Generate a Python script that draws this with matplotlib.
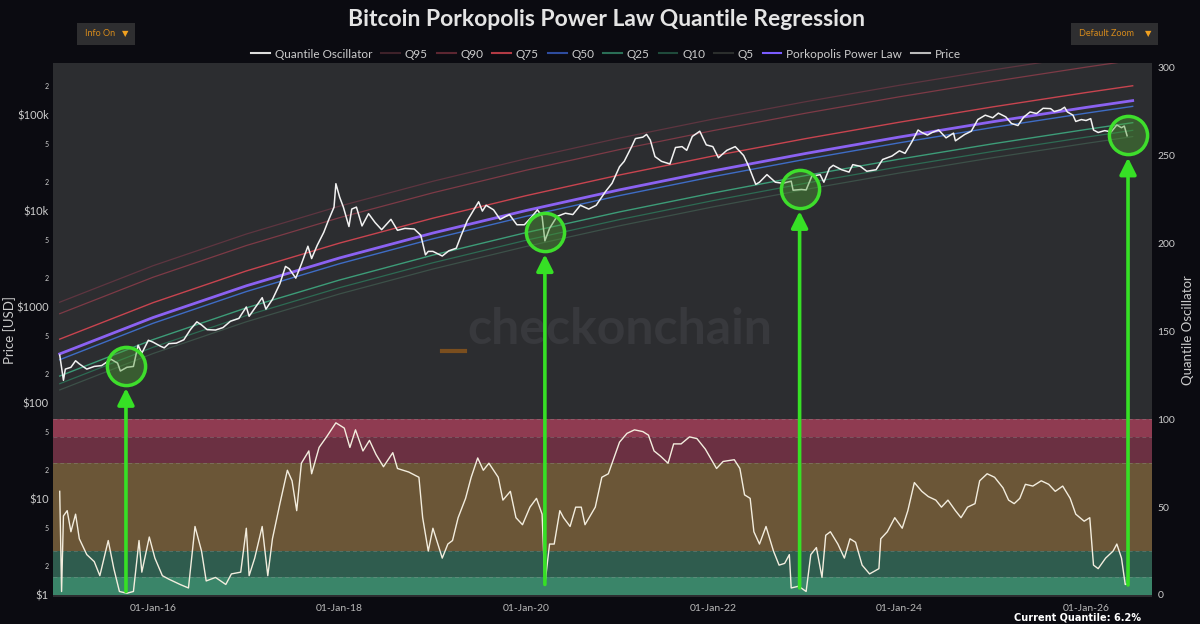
import matplotlib
matplotlib.use('Agg')
import matplotlib.pyplot as plt
import matplotlib.dates as mdates
from matplotlib.lines import Line2D
from matplotlib.patches import Rectangle
from matplotlib.ticker import FixedLocator, FixedFormatter
import numpy as np
import pandas as pd

plt.rcParams['font.family'] = ['Lato', 'DejaVu Sans']

BG = '#0b0b11'
PLOT_BG = '#2c2d30'
TXT = '#cccccc'

# ---- data ----
# quantile model curves, price in USD at the start of each year
curve_years = [2015, 2016, 2017, 2018, 2019, 2020, 2021, 2022, 2023, 2024, 2025, 2026, 2026.5]
q95 = [1122, 2692, 5763, 11260, 20460, 35170, 57730, 90890, 138500, 205000, 296000, 417700, 491700]
q90 = [851, 2042, 4372, 8540, 15520, 26680, 43800, 68950, 105100, 155500, 224500, 316900, 373000]
q75 = [462, 1109, 2375, 4640, 8432, 14490, 23790, 37460, 57080, 84480, 122000, 172100, 202600]
ppl = [324, 776, 1662, 3247, 5902, 10140, 16650, 26210, 39950, 59140, 85410, 120400, 141800]
q50 = [282, 676, 1448, 2828, 5140, 8833, 14500, 22830, 34800, 51510, 74390, 104900, 123500]
q25 = [190.5, 457, 979, 1912, 3475, 5971, 9803, 15430, 23520, 34820, 50290, 70910, 83510]
q10 = [158.5, 380, 814, 1590, 2891, 4967, 8155, 12840, 19570, 28970, 41830, 58990, 69470]
q5 = [136.5, 327, 701, 1369, 2489, 4276, 7021, 11050, 16850, 24940, 36020, 50790, 59810]

price_years = [
    2015.00, 2015.04, 2015.06, 2015.12, 2015.17, 2015.21, 2015.29, 2015.37, 2015.45, 2015.50,
    2015.55, 2015.62, 2015.65, 2015.72, 2015.79, 2015.84, 2015.88, 2015.95, 2016.00, 2016.08,
    2016.12, 2016.17, 2016.25, 2016.33, 2016.40, 2016.47, 2016.52, 2016.58, 2016.67, 2016.75,
    2016.83, 2016.92, 2017.00, 2017.03, 2017.10, 2017.17, 2017.21, 2017.28, 2017.36, 2017.42,
    2017.46, 2017.53, 2017.59, 2017.66, 2017.70, 2017.76, 2017.83, 2017.88, 2017.94, 2017.96,
    2018.00, 2018.04, 2018.10, 2018.13, 2018.18, 2018.24, 2018.31, 2018.38, 2018.45, 2018.55,
    2018.62, 2018.70, 2018.80, 2018.87, 2018.92, 2018.95, 2019.00, 2019.10, 2019.17, 2019.25,
    2019.30, 2019.37, 2019.49, 2019.53, 2019.57, 2019.65, 2019.72, 2019.82, 2019.90, 2019.98,
    2020.05, 2020.12, 2020.17, 2020.20, 2020.25, 2020.33, 2020.42, 2020.50, 2020.58, 2020.67,
    2020.75, 2020.85, 2020.92, 2021.00, 2021.05, 2021.13, 2021.17, 2021.25, 2021.29, 2021.33,
    2021.38, 2021.45, 2021.54, 2021.60, 2021.67, 2021.72, 2021.78, 2021.86, 2021.93, 2022.00,
    2022.06, 2022.15, 2022.24, 2022.33, 2022.38, 2022.46, 2022.50, 2022.58, 2022.67, 2022.75,
    2022.84, 2022.86, 2022.95, 2023.00, 2023.06, 2023.15, 2023.19, 2023.25, 2023.29, 2023.38,
    2023.46, 2023.50, 2023.58, 2023.65, 2023.75, 2023.82, 2023.92, 2024.00, 2024.06, 2024.13,
    2024.20, 2024.24, 2024.30, 2024.35, 2024.42, 2024.50, 2024.58, 2024.60, 2024.70, 2024.77,
    2024.84, 2024.92, 2025.00, 2025.06, 2025.14, 2025.20, 2025.27, 2025.33, 2025.40, 2025.47,
    2025.54, 2025.62, 2025.66, 2025.73, 2025.77, 2025.80, 2025.86, 2025.89, 2025.95, 2026.00,
    2026.05, 2026.08, 2026.13, 2026.20, 2026.27, 2026.33, 2026.38, 2026.41, 2026.44]
price_usd = [
    315, 172, 225, 235, 275, 255, 225, 240, 245, 265,
    285, 260, 215, 235, 240, 400, 330, 450, 430, 390,
    375, 415, 420, 455, 580, 700, 650, 580, 575, 610,
    710, 760, 1000, 800, 1000, 1250, 950, 1200, 1750, 2650,
    2500, 2000, 2800, 4300, 3200, 4400, 6000, 8000, 11000, 19300,
    14000, 11000, 6900, 10500, 11000, 7000, 9400, 7600, 6400, 8200,
    6300, 6600, 6500, 5600, 3500, 3800, 3800, 3400, 3850, 4100,
    5500, 8000, 12500, 10000, 11500, 10300, 8200, 9200, 7200, 7200,
    8500, 10300, 8800, 4900, 6600, 8800, 9500, 9200, 11500, 10500,
    11500, 16000, 19500, 29000, 33000, 47000, 57000, 59000, 63000, 55000,
    37000, 33000, 31000, 46000, 47000, 43000, 60000, 68000, 49000, 47000,
    36000, 43000, 47000, 38000, 30000, 19000, 20000, 24000, 20000, 19500,
    20500, 16500, 16800, 16600, 23000, 24000, 20000, 28000, 30000, 27000,
    25500, 30500, 29300, 26000, 27000, 34500, 37500, 42500, 40000, 52000,
    70000, 66000, 62000, 66000, 70000, 58000, 65000, 54000, 63000, 68000,
    90000, 100000, 94000, 105000, 96000, 82000, 78000, 95000, 108000, 104000,
    118000, 117000, 109000, 114000, 121000, 108000, 100000, 86000, 90000, 88000,
    92000, 70000, 66000, 69000, 67000, 79000, 74000, 77000, 61000]

osc_years = [
    2015.00, 2015.02, 2015.04, 2015.08, 2015.12, 2015.17, 2015.21, 2015.29, 2015.37, 2015.43,
    2015.52, 2015.58, 2015.64, 2015.72, 2015.79, 2015.85, 2015.88, 2015.96, 2016.02, 2016.10,
    2016.17, 2016.29, 2016.38, 2016.45, 2016.52, 2016.57, 2016.67, 2016.78, 2016.84, 2016.94,
    2017.00, 2017.03, 2017.09, 2017.17, 2017.23, 2017.28, 2017.36, 2017.44, 2017.49, 2017.54,
    2017.59, 2017.67, 2017.70, 2017.78, 2017.86, 2017.96, 2018.05, 2018.11, 2018.17, 2018.25,
    2018.32, 2018.39, 2018.47, 2018.57, 2018.62, 2018.74, 2018.85, 2018.89, 2018.95, 2019.00,
    2019.10, 2019.16, 2019.21, 2019.27, 2019.35, 2019.41, 2019.48, 2019.54, 2019.60, 2019.70,
    2019.75, 2019.83, 2019.89, 2019.96, 2020.04, 2020.11, 2020.17, 2020.20, 2020.25, 2020.30,
    2020.36, 2020.40, 2020.47, 2020.53, 2020.59, 2020.63, 2020.74, 2020.81, 2020.88, 2020.92,
    2021.00, 2021.08, 2021.16, 2021.25, 2021.31, 2021.37, 2021.44, 2021.52, 2021.58, 2021.66,
    2021.75, 2021.83, 2021.92, 2022.04, 2022.11, 2022.23, 2022.29, 2022.34, 2022.40, 2022.44,
    2022.50, 2022.57, 2022.65, 2022.71, 2022.77, 2022.82, 2022.84, 2022.92, 2023.00, 2023.05,
    2023.11, 2023.17, 2023.21, 2023.26, 2023.34, 2023.41, 2023.47, 2023.53, 2023.60, 2023.68,
    2023.78, 2023.80, 2023.87, 2023.95, 2024.03, 2024.09, 2024.16, 2024.24, 2024.31, 2024.39,
    2024.45, 2024.52, 2024.60, 2024.66, 2024.73, 2024.81, 2024.86, 2024.94, 2025.02, 2025.11,
    2025.17, 2025.23, 2025.29, 2025.35, 2025.43, 2025.52, 2025.60, 2025.67, 2025.75, 2025.83,
    2025.89, 2025.98, 2026.04, 2026.08, 2026.13, 2026.21, 2026.29, 2026.33, 2026.38, 2026.42,
    2026.44]
osc_vals = [
    59, 2, 45, 48, 36, 46, 32, 23, 19, 11,
    31, 15, 2, 1, 2, 31, 13, 33, 21, 11,
    9, 6, 4, 39, 25, 8, 10, 6, 12, 13,
    38, 11, 21, 39, 11, 32, 52, 71, 65, 48,
    75, 82, 69, 84, 90, 98, 95, 84, 94, 82,
    88, 80, 73, 81, 72, 70, 67, 44, 25, 38,
    21, 29, 31, 44, 55, 67, 78, 71, 75, 67,
    54, 59, 44, 40, 50, 55, 46, 6, 29, 29,
    48, 44, 39, 50, 50, 40, 50, 67, 69, 75,
    87, 92, 94, 93, 91, 82, 79, 75, 86, 86,
    90, 89, 83, 72, 76, 77, 72, 57, 55, 36,
    29, 39, 25, 17, 18, 23, 4, 5, 2, 23,
    27, 10, 34, 36, 29, 21, 32, 30, 17, 12,
    15, 32, 36, 44, 38, 48, 64, 59, 56, 54,
    50, 54, 48, 44, 50, 52, 65, 69, 67, 61,
    54, 52, 55, 63, 62, 65, 63, 59, 62, 55,
    46, 42, 44, 17, 15, 21, 25, 29, 21, 6,
    6.2]

# highlighted bottoms: date, price at circle, oscillator at arrow foot
bottom_years = [2015.71, 2020.20, 2022.93, 2026.45]
bottom_price = [243, 6030, 17000, 61400]
bottom_osc = [2, 6, 4, 5.7]

band_edges = [0, 10, 25, 75, 90, 100]
band_colors = ['#3a8569', '#2f5c4e', '#6b5637', '#6b3042', '#8f3b51']

x_range = [2014.928, 2026.707]


def to_date(years):
    years = np.atleast_1d(np.asarray(years, dtype=float))
    return pd.Timestamp('2015-01-01') + pd.to_timedelta((years - 2015) * 365.25, unit='D')


curve_dates = to_date(curve_years)
price_dates = to_date(price_years)
osc_dates = to_date(osc_years)
bottom_dates = to_date(bottom_years)
x_lims = to_date(x_range)

fig = plt.figure(figsize=(12, 6.24), dpi=100, facecolor=BG)
ax = fig.add_axes([53 / 1200, 27 / 624, 1099 / 1200, 534 / 624])
ax.set_facecolor(PLOT_BG)
ax.set_yscale('log')
ax2 = ax.twinx()

# quantile lines
lines = [
    (q95, '#5e3540', 0.9, 'Q95', '#3e2129'),
    (q90, '#7d3a46', 0.9, 'Q90', '#5c2631'),
    (q75, '#c8444f', 1.0, 'Q75', '#b23a44'),
    (q50, '#3e6cc4', 1.0, 'Q50', '#2e4c9e'),
    (q25, '#3d9c78', 1.0, 'Q25', '#2a6e56'),
    (q10, '#2d6b53', 0.9, 'Q10', '#1f4a3b'),
    (q5, '#3c5048', 0.9, 'Q5', '#2b2e2d'),
]
for vals, col, lw, lab, lcol in lines:
    ax.plot(curve_dates, vals, color=col, lw=lw, zorder=2)
ax.plot(curve_dates, ppl, color='#8b62f2', lw=2.0, zorder=3)
ax.plot(price_dates, price_usd, color='#f2f2f2', lw=1.1, zorder=4)

# watermark
ax.text(0.516, 0.5, 'checkonchain', transform=ax.transAxes, fontsize=36,
        fontweight='bold', color='#38393d', ha='center', va='center', zorder=1)
ax.plot([0.354, 0.375], [0.46, 0.46], transform=ax.transAxes, color='#7a4e1e',
        lw=3, zorder=1)

# oscillator bands
for i, col in enumerate(band_colors):
    ax2.axhspan(band_edges[i], band_edges[i + 1], color=col, lw=0, zorder=1)
for e in band_edges[1:]:
    ax2.axhline(e, color='#9a9a9a', lw=0.7, ls=(0, (4, 3)), alpha=0.35, zorder=1.5)
ax2.plot(osc_dates, osc_vals, color='#f3edde', lw=1.0, zorder=3)

# circles and arrows
for d, p, o in zip(bottom_dates, bottom_price, bottom_osc):
    ax.plot([d], [p], 'o', ms=27.5, mfc=(0.3, 0.62, 0.2, 0.42), mec='#3ede2c',
            mew=2.5, zorder=6)
    dn = mdates.date2num(d)
    ax2.annotate('', xy=(dn, p), xycoords=ax.transData, xytext=(dn, o),
                 textcoords=ax2.transData,
                 arrowprops=dict(arrowstyle='-|>,head_length=1.0,head_width=0.5',
                                 color='#36e025', lw=2.6, shrinkA=0, shrinkB=16),
                 zorder=7)

# axes limits and ticks
ax.set_xlim(x_lims[0], x_lims[1])
ax.set_ylim(10 ** -0.024, 10 ** 5.544)
ax2.set_ylim(-1.14, 302.8)

major = [1, 10, 100, 1000, 1e4, 1e5]
major_lab = [r'\$1', r'\$10', r'\$100', r'\$1000', r'\$10k', r'\$100k']
minor = [2, 5, 20, 50, 200, 500, 2000, 5000, 2e4, 5e4, 2e5]
minor_lab = ['2', '5'] * 5 + ['2']
ax.yaxis.set_major_locator(FixedLocator(major))
ax.yaxis.set_major_formatter(FixedFormatter(major_lab))
ax.yaxis.set_minor_locator(FixedLocator(minor))
ax.yaxis.set_minor_formatter(FixedFormatter(minor_lab))
ax.tick_params(axis='y', which='major', length=0, labelsize=8, colors=TXT, pad=3)
ax.tick_params(axis='y', which='minor', length=0, labelsize=5, colors=TXT, pad=3)

ax.xaxis.set_major_locator(mdates.YearLocator(2))
ax.xaxis.set_major_formatter(mdates.DateFormatter('%d-%b-%y'))
ax.tick_params(axis='x', length=0, labelsize=7.5, colors='#b8b8b8', pad=5)

ax2.set_yticks([0, 50, 100, 150, 200, 250, 300])
ax2.tick_params(axis='y', length=0, labelsize=7.5, colors=TXT, pad=4)

for a in (ax, ax2):
    for s in a.spines.values():
        s.set_visible(False)

# texts
fig.text(606 / 1200, 1 - 20 / 624, 'Bitcoin Porkopolis Power Law Quantile Regression',
         ha='center', va='center', fontsize=16.5, fontweight='bold', color='#e4e4e4')
fig.text(10 / 1200, 1 - 330 / 624, 'Price [USD]', rotation=90, ha='center',
         va='center', fontsize=9.5, color=TXT)
fig.text(1188 / 1200, 1 - 330 / 624, 'Quantile Oscillator', rotation=90,
         ha='center', va='center', fontsize=9.5, color=TXT)
fig.text(1077 / 1200, 1 - 617 / 624, 'Current Quantile: 6.2%', ha='center',
         va='center', fontsize=7, fontweight='bold', color='white',
         family=['DejaVu Sans'])

# buttons
for x0, x1, lab in [(77, 135, 'Info On'), (1071, 1158, 'Default Zoom')]:
    fig.add_artist(Rectangle((x0 / 1200, 1 - 45 / 624), (x1 - x0) / 1200, 22 / 624,
                             transform=fig.transFigure, facecolor='#2e2e30',
                             edgecolor='none'))
    fig.text((x0 + 8) / 1200, 1 - 34 / 624, lab, ha='left', va='center',
             fontsize=6.5, color='#d58a1c')
    fig.text((x1 - 10) / 1200, 1 - 34 / 624, '\u25bc', ha='center', va='center',
             fontsize=6, color='#f0a020', family=['DejaVu Sans'])

# legend
handles = [Line2D([], [], color='#dddddd', lw=1.5)]
labels = ['Quantile Oscillator']
for vals, col, lw, lab, lcol in lines:
    handles.append(Line2D([], [], color=lcol, lw=1.5))
    labels.append(lab)
handles += [Line2D([], [], color='#7b5cff', lw=1.5), Line2D([], [], color='#bbbbbb', lw=1.5)]
labels += ['Porkopolis Power Law', 'Price']
fig.legend(handles, labels, loc='center', bbox_to_anchor=(606 / 1200, 1 - 54 / 624),
           ncol=10, frameon=False, fontsize=8.5, labelcolor=TXT, handlelength=1.6,
           columnspacing=0.75, handletextpad=0.4)

fig.savefig('out.png', dpi=100, facecolor=BG)
